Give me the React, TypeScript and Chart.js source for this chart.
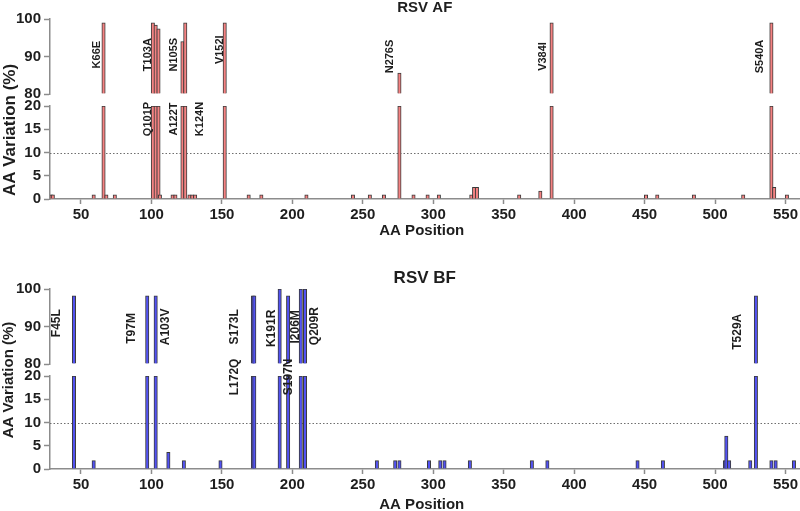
import { useEffect, useRef } from "react";
import { Chart, registerables } from "chart.js";
Chart.register(...registerables);

const FONT = '"Liberation Sans", Arial, Helvetica, sans-serif';
const TEXT = "#1e1e1e";
const AXIS = "#8c8c8c";

// ---------- shared axes ----------
const xTitle = "AA Position";
const yTitle = "AA Variation (%)";
const xRange = [28, 560];
const xTickValues = [50, 100, 150, 200, 250, 300, 350, 400, 450, 500, 550];
const yTopTicks = [80, 90, 100];
const yBotTicks = [0, 5, 10, 15, 20];
const referenceLine = 10;

// ---------- RSV A F ----------
const afTitle = "RSV AF";
const afPositions = [29, 30, 59, 66, 68, 74, 101, 103, 105, 106, 115, 117, 122, 124, 127, 129, 131, 152, 169, 178, 210, 243, 255, 265, 276, 286, 296, 304, 327, 329, 331, 361, 376, 384, 451, 459, 485, 520, 540, 542, 551];
const afValues = [0.9, 0.9, 0.9, 99, 0.9, 0.9, 99, 98.4, 97.4, 0.9, 0.9, 0.9, 94, 99, 0.9, 0.9, 0.9, 99, 0.9, 0.9, 0.9, 0.9, 0.9, 0.9, 85.6, 0.9, 0.9, 0.9, 0.9, 2.5, 2.5, 0.9, 1.7, 99, 0.9, 0.9, 0.9, 0.9, 99, 2.5, 0.9];
const afLabelText = ["K66E", "T103A", "N105S", "V152I", "N276S", "V384I", "S540A", "Q101P", "A122T", "K124N"];
const afLabelPos = [61.3, 97.2, 115.7, 148.4, 269.5, 377.7, 532.1, 97.2, 115.7, 134.3];
const afLabelValue = [90.5, 90.5, 90.5, 91.8, 90, 90, 90, 17.2, 17.2, 17.2];
const afLabelAxis = ["top", "top", "top", "top", "top", "top", "top", "bot", "bot", "bot"];

// ---------- RSV B F ----------
const bfTitle = "RSV BF";
const bfPositions = [45, 59, 97, 103, 112, 123, 149, 172, 173, 191, 197, 206, 209, 260, 273, 276, 297, 305, 308, 326, 370, 381, 445, 463, 507, 508, 510, 525, 529, 540, 543, 556];
const bfValues = [98.2, 1.8, 98.2, 98.2, 3.6, 1.8, 1.8, 98.2, 98.2, 100, 98.2, 100, 100, 1.8, 1.8, 1.8, 1.8, 1.8, 1.8, 1.8, 1.8, 1.8, 1.8, 1.8, 1.8, 7.1, 1.8, 1.8, 98.2, 1.8, 1.8, 1.8];
const bfLabelText = ["F45L", "T97M", "A103V", "S173L", "K191R", "I206M", "Q209R", "T529A", "L172Q", "S197N"];
const bfLabelPos = [33.1, 86.1, 110.2, 159.3, 185.1, 202.3, 215.7, 516.2, 159.1, 197.5];
const bfLabelValue = [90.9, 89.5, 89.9, 89.9, 89.5, 89.9, 90.1, 88.6, 19.8, 19.8];
const bfLabelAxis = ["top", "top", "top", "top", "top", "top", "top", "top", "bot", "bot"];

type Spec = {
  title: string;
  positions: number[];
  values: number[];
  labelText: string[];
  labelPos: number[];
  labelValue: number[];
  labelAxis: string[];
  fill: string;
  top: number;
  height: number;
  padTop: number;
  xAxisH: number;
  titleBaseline: number;
  titleSize: number;
  xTitleBaseline: number;
  xTitleSize: number;
  yTitleX: number;
  yTitleCenter: number;
  yTitleSize: number;
  labelSize: number;
  tickSize: number;
};

const specs: Spec[] = [
  {
    title: afTitle, positions: afPositions, values: afValues,
    labelText: afLabelText, labelPos: afLabelPos, labelValue: afLabelValue, labelAxis: afLabelAxis,
    fill: "#f58282", top: 0, height: 240, padTop: 19, xAxisH: 41,
    titleBaseline: 12, titleSize: 15, xTitleBaseline: 235, xTitleSize: 15,
    yTitleX: 10, yTitleCenter: 130, yTitleSize: 17, labelSize: 11, tickSize: 15,
  },
  {
    title: bfTitle, positions: bfPositions, values: bfValues,
    labelText: bfLabelText, labelPos: bfLabelPos, labelValue: bfLabelValue, labelAxis: bfLabelAxis,
    fill: "#5252f2", top: 240, height: 271, padTop: 49, xAxisH: 42,
    titleBaseline: 43, titleSize: 17, xTitleBaseline: 269, xTitleSize: 15,
    yTitleX: 8.5, yTitleCenter: 140, yTitleSize: 15, labelSize: 12, tickSize: 15,
  },
];

function makeOverlay(spec: Spec) {
  return {
    id: "overlay",
    beforeDatasetsDraw(chart: any) {
      const { ctx, chartArea, scales } = chart;
      const y = Math.round(scales.yBot.getPixelForValue(referenceLine)) + 0.5;
      ctx.save();
      ctx.strokeStyle = "#6e6e6e";
      ctx.lineWidth = 1;
      ctx.setLineDash([1.5, 2]);
      ctx.beginPath();
      ctx.moveTo(chartArea.left, y);
      ctx.lineTo(chartArea.right, y);
      ctx.stroke();
      ctx.restore();
    },
    afterDraw(chart: any) {
      const { ctx, chartArea, scales } = chart;
      ctx.save();
      ctx.fillStyle = TEXT;
      ctx.font = `bold ${spec.labelSize}px ${FONT}`;
      ctx.textAlign = "center";
      ctx.textBaseline = "middle";
      spec.labelText.forEach((t, i) => {
        const x = scales.x.getPixelForValue(spec.labelPos[i]);
        const sc = spec.labelAxis[i] === "top" ? scales.yTop : scales.yBot;
        const y = sc.getPixelForValue(spec.labelValue[i]);
        ctx.save();
        ctx.translate(x, y);
        ctx.rotate(-Math.PI / 2);
        ctx.fillText(t, 0, 0);
        ctx.restore();
      });
      const cx = (chartArea.left + chartArea.right) / 2;
      ctx.textBaseline = "alphabetic";
      ctx.font = `bold ${spec.titleSize}px ${FONT}`;
      ctx.fillText(spec.title, cx, spec.titleBaseline);
      ctx.font = `bold ${spec.xTitleSize}px ${FONT}`;
      ctx.fillText(xTitle, cx - 3, spec.xTitleBaseline);
      ctx.font = `bold ${spec.yTitleSize}px ${FONT}`;
      ctx.translate(spec.yTitleX, spec.yTitleCenter);
      ctx.rotate(-Math.PI / 2);
      ctx.textBaseline = "middle";
      ctx.fillText(yTitle, 0, 0);
      ctx.restore();
    },
  };
}

function buildConfig(spec: Spec): any {
  const tickFont = { family: FONT, size: spec.tickSize, weight: "bold" as const };
  const yAxis = (ticks: number[], weight: number) => ({
    type: "linear",
    position: "left",
    stack: "yStack",
    stackWeight: weight,
    min: ticks[0],
    max: ticks[ticks.length - 1],
    afterBuildTicks: (s: any) => {
      s.ticks = ticks.map((v) => ({ value: v }));
    },
    afterFit: (s: any) => {
      s.width = 50;
    },
    ticks: { font: tickFont, color: TEXT, padding: 3, autoSkip: false },
    grid: { display: true, drawOnChartArea: false, drawTicks: true, tickLength: 6, tickColor: AXIS, tickWidth: 1.5 },
    border: { display: true, color: AXIS, width: 1.5 },
  });
  const barStyle = {
    backgroundColor: spec.fill,
    borderColor: "#3a3a3a",
    borderWidth: 1,
    barThickness: 3.4,
    grouped: false,
    borderSkipped: "start",
  };
  const botMax = yBotTicks[yBotTicks.length - 1];
  const topMin = yTopTicks[0];
  const lower = spec.positions.map((p, i) => ({ x: p, y: Math.min(spec.values[i], botMax) }));
  const upper = spec.positions
    .map((p, i) => (spec.values[i] > topMin ? { x: p, y: spec.values[i] } : null))
    .filter((d) => d !== null);
  return {
    type: "bar",
    data: {
      datasets: [
        { label: "lower", data: lower, xAxisID: "x", yAxisID: "yBot", ...barStyle },
        { label: "upper", data: upper, xAxisID: "x", yAxisID: "yTop", base: topMin, ...barStyle },
      ],
    },
    options: {
      responsive: false,
      animation: false,
      events: [],
      layout: { padding: { top: spec.padTop, left: 0, right: 0, bottom: 0 } },
      plugins: { legend: { display: false }, tooltip: { enabled: false }, title: { display: false } },
      scales: {
        x: {
          type: "linear",
          position: "bottom",
          offset: false,
          min: xRange[0],
          max: xRange[1],
          afterBuildTicks: (s: any) => {
            s.ticks = xTickValues.map((v) => ({ value: v }));
          },
          afterFit: (s: any) => {
            s.height = spec.xAxisH;
          },
          ticks: { font: tickFont, color: TEXT, padding: 2, maxRotation: 0, autoSkip: false },
          grid: { offset: false, drawOnChartArea: false, drawTicks: true, tickLength: 5, tickColor: AXIS, tickWidth: 1.5 },
          border: { color: AXIS, width: 1.5 },
        },
        yBot: yAxis(yBotTicks, 93),
        yGap: {
          type: "linear",
          position: "left",
          stack: "yStack",
          stackWeight: 12,
          min: 0,
          max: 1,
          ticks: { display: false },
          grid: { display: false, drawTicks: false },
          border: { display: false },
          afterFit: (s: any) => {
            s.width = 50;
          },
        },
        yTop: yAxis(yTopTicks, 75),
      },
    },
    plugins: [makeOverlay(spec)],
  };
}

function Panel({ spec }: { spec: Spec }) {
  const ref = useRef<HTMLCanvasElement>(null);
  useEffect(() => {
    const chart = new Chart(ref.current as HTMLCanvasElement, buildConfig(spec));
    return () => chart.destroy();
  }, [spec]);
  return (
    <canvas
      ref={ref}
      width={800}
      height={spec.height}
      style={{ position: "absolute", left: 0, top: spec.top, width: 800, height: spec.height, display: "block" }}
    />
  );
}

export default function App() {
  return (
    <div style={{ position: "absolute", left: 0, top: 0, width: 800, height: 511, background: "#fff", overflow: "hidden" }}>
      {specs.map((s) => (
        <Panel key={s.title} spec={s} />
      ))}
    </div>
  );
}
